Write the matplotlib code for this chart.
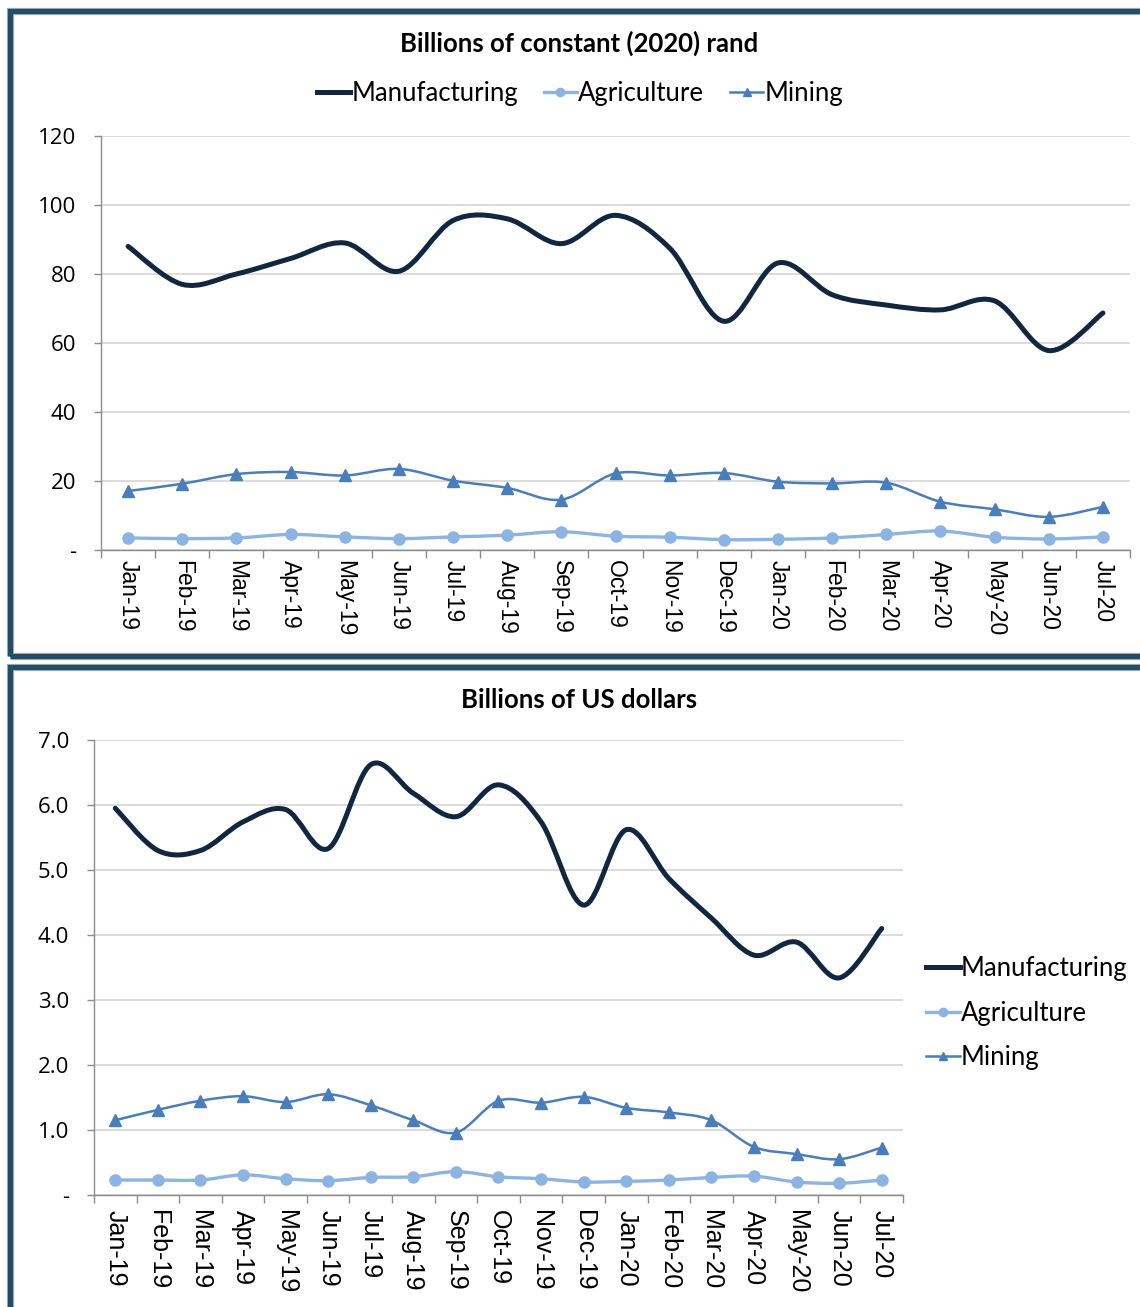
import matplotlib
matplotlib.use('Agg')
import matplotlib.pyplot as plt
from matplotlib.path import Path
from matplotlib.patches import PathPatch, Rectangle
from matplotlib.lines import Line2D
import numpy as np

# Meses y series
months = ['Jan-19', 'Feb-19', 'Mar-19', 'Apr-19', 'May-19', 'Jun-19', 'Jul-19', 'Aug-19',
          'Sep-19', 'Oct-19', 'Nov-19', 'Dec-19', 'Jan-20', 'Feb-20', 'Mar-20', 'Apr-20',
          'May-20', 'Jun-20', 'Jul-20']

# Panel superior: miles de millones de rand constantes (2020)
manuf_zar = [88, 77, 80, 84.5, 89, 80.8, 95.5, 96, 88.8, 97, 87.5, 66.3, 83.2, 74, 71, 69.6, 72.2, 57.8, 68.7]
agri_zar = [3.5, 3.3, 3.5, 4.5, 3.8, 3.3, 3.8, 4.3, 5.3, 4.0, 3.7, 3.0, 3.1, 3.5, 4.5, 5.5, 3.7, 3.2, 3.8]
mining_zar = [17.1, 19.2, 22, 22.6, 21.6, 23.5, 20.1, 18, 14.6, 22.2, 21.6, 22.3, 19.8, 19.3, 19.5, 14, 11.8, 9.6, 12.5]
yticks_zar = [0, 20, 40, 60, 80, 100, 120]
ylabels_zar = ['-', '20', '40', '60', '80', '100', '120']

# Panel inferior: miles de millones de dólares
manuf_usd = [5.95, 5.3, 5.3, 5.74, 5.93, 5.33, 6.62, 6.18, 5.82, 6.31, 5.74, 4.46, 5.62, 4.87, 4.26, 3.69, 3.89, 3.34, 4.1]
agri_usd = [0.23, 0.23, 0.23, 0.31, 0.25, 0.22, 0.27, 0.28, 0.36, 0.28, 0.25, 0.2, 0.21, 0.23, 0.27, 0.29, 0.2, 0.18, 0.23]
mining_usd = [1.15, 1.31, 1.45, 1.52, 1.43, 1.55, 1.38, 1.15, 0.96, 1.45, 1.42, 1.51, 1.34, 1.27, 1.15, 0.74, 0.63, 0.55, 0.73]
yticks_usd = [0, 1, 2, 3, 4, 5, 6, 7]
ylabels_usd = ['-', '1.0', '2.0', '3.0', '4.0', '5.0', '6.0', '7.0']

c_manuf = '#12263F'
c_agri = '#8DB3E2'
c_mining = '#4A7EBB'
c_frame = '#1F4E6B'
c_grid = '#D9D9D9'
c_axis = '#8C8C8C'

plt.rcParams['font.family'] = ['Lato', 'DejaVu Sans']


def smooth(ax, x, y, color, lw):
    # curva suavizada tipo Excel (Bezier entre puntos)
    x = np.asarray(x, float)
    y = np.asarray(y, float)
    n = len(x)
    verts = [(x[0], y[0])]
    codes = [Path.MOVETO]
    for i in range(n - 1):
        a = max(i - 1, 0)
        b = min(i + 2, n - 1)
        c1 = (x[i] + (x[i + 1] - x[a]) / 6, y[i] + (y[i + 1] - y[a]) / 6)
        c2 = (x[i + 1] - (x[b] - x[i]) / 6, y[i + 1] - (y[b] - y[i]) / 6)
        verts += [c1, c2, (x[i + 1], y[i + 1])]
        codes += [Path.CURVE4] * 3
    ax.add_patch(PathPatch(Path(verts, codes), fill=False, ec=color, lw=lw,
                           capstyle='round', joinstyle='round', zorder=3))


def draw_panel(ax, manuf, agri, mining, yticks, ylabels, xfs, xpad):
    x = np.arange(len(months))
    smooth(ax, x, manuf, c_manuf, 3.6)
    smooth(ax, x, agri, c_agri, 2.4)
    ax.plot(x, agri, ls='none', marker='o', ms=8, color=c_agri, zorder=4)
    smooth(ax, x, mining, c_mining, 1.8)
    ax.plot(x, mining, ls='none', marker='^', ms=8, color=c_mining, zorder=4)

    ax.set_xlim(-0.5, len(months) - 0.5)
    ax.set_ylim(yticks[0], yticks[-1])
    ax.set_yticks(yticks)
    ax.set_yticklabels(ylabels, fontsize=16, family='Open Sans')
    ax.set_xticks(x)
    ax.set_xticklabels(months, rotation=270, fontsize=xfs, family='Liberation Sans')
    ax.set_xticks(np.arange(len(months) + 1) - 0.5, minor=True)
    ax.tick_params(axis='x', which='major', length=0, pad=xpad)
    ax.tick_params(axis='x', which='minor', length=6, color=c_axis, width=1)
    ax.tick_params(axis='y', length=5, color=c_axis, width=1, pad=13)
    ax.grid(axis='y', color=c_grid, lw=1.3, zorder=0)
    ax.set_axisbelow(True)
    for s in ['top', 'right']:
        ax.spines[s].set_visible(False)
    for s in ['left', 'bottom']:
        ax.spines[s].set_color(c_axis)
        ax.spines[s].set_linewidth(1)


fig = plt.figure(figsize=(11.4, 13.07), dpi=100)
W, H = 1140, 1307

# marcos de los paneles
for (x0, y0, x1, y1) in [(10.5, 10.5, 1160, 655.5), (10.5, 666.5, 1160, 1330)]:
    for ec, lw in [('#A6A6A6', 5.2), (c_frame, 3.6)]:
        fig.add_artist(Rectangle((x0 / W, 1 - y1 / H), (x1 - x0) / W, (y1 - y0) / H,
                                 transform=fig.transFigure, fill=False, ec=ec, lw=lw))

ax1 = fig.add_axes([101 / W, 1 - 550 / H, 1029 / W, 414 / H])
draw_panel(ax1, manuf_zar, agri_zar, mining_zar, yticks_zar, ylabels_zar, 16.5, 7)

ax2 = fig.add_axes([94 / W, 1 - 1195 / H, 809 / W, 455 / H])
draw_panel(ax2, manuf_usd, agri_usd, mining_usd, yticks_usd, ylabels_usd, 18, 11)

fig.text(579 / W, 1 - 43 / H, 'Billions of constant (2020) rand', ha='center', va='center',
         fontsize=18.5, fontweight='bold')
fig.text(579 / W, 1 - 700 / H, 'Billions of US dollars', ha='center', va='center',
         fontsize=18.5, fontweight='bold')

handles = [Line2D([], [], color=c_manuf, lw=3.6),
           Line2D([], [], color=c_agri, lw=2.4, marker='o', ms=6),
           Line2D([], [], color=c_mining, lw=1.8, marker='^', ms=6)]
labels = ['Manufacturing', 'Agriculture', 'Mining']

fig.legend(handles, labels, loc='center', bbox_to_anchor=(580 / W, 1 - 93 / H), ncol=3,
           frameon=False, fontsize=18.5, handlelength=1.3, handletextpad=0.05, columnspacing=1.0)
fig.legend(handles, labels, loc='center left', bbox_to_anchor=(903 / W, 1 - 1013 / H), ncol=1,
           frameon=False, fontsize=18.5, handlelength=1.3, handletextpad=0.05, labelspacing=0.75)

fig.savefig('out.png', dpi=100)
